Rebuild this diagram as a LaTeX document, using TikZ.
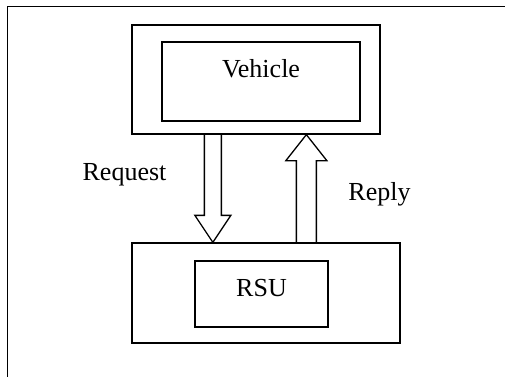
\documentclass[tikz,border=0pt]{standalone}
\usepackage{fontspec}
\setmainfont{Liberation Serif}
\usetikzlibrary{positioning, calc}

\begin{document}
\begin{tikzpicture}[
  x=1pt, y=-1pt,
  font=\fontsize{26}{31}\selectfont,
  line width=1.3pt,
  box/.style={draw, inner sep=0pt},
  blk/.style={draw, line join=miter},
  lab/.style={anchor=base, inner sep=0pt}
]
\useasboundingbox (0,0) rectangle (505,377);
% frame
\draw[line width=1pt] (505,7) -- (7,7) -- (7,377);
% vehicle
\node[box, minimum width=248pt, minimum height=109pt] (vehout) at (256,79.5) {};
\node[box, minimum width=198pt, text height=36pt, text depth=43pt,
      anchor=base] (vehin) at (261,78) {Vehicle};
% road side unit
\node[box, minimum width=268pt, minimum height=100pt] (rsuout) at (266,293) {};
\node[box, minimum width=133pt, text height=35pt, text depth=31pt,
      anchor=base] (rsuin) at (261.5,296) {RSU};
% block arrows
\coordinate (reqtail) at ($(vehout.south west)+(81.5,0)$);
\coordinate (reqtip) at ($(rsuout.north west)+(81.5,0)$);
\draw[blk] ($(reqtail)+(-8.5,0)$) -- ($(reqtip)+(-8.5,-27)$) -- ++(-9.5,0)
  -- (reqtip) -- ($(reqtip)+(18,-27)$) -- ++(-9.5,0) -- ($(reqtail)+(8.5,0)$);
\coordinate (reptail) at ($(rsuout.north west)+(175,0)$);
\coordinate (reptip) at ($(vehout.south west)+(175,0)$);
\draw[blk] ($(reptail)+(-10,0)$) -- ($(reptip)+(-10,26)$) -- ++(-10.5,0)
  -- (reptip) -- ($(reptip)+(20.5,26)$) -- ++(-10.5,0) -- ($(reptail)+(10,0)$);
% labels
\node[lab] (reqlab) at (124.5,180) {Request};
\node[lab] (replab) at (379.5,200) {Reply};
\end{tikzpicture}
\end{document}
